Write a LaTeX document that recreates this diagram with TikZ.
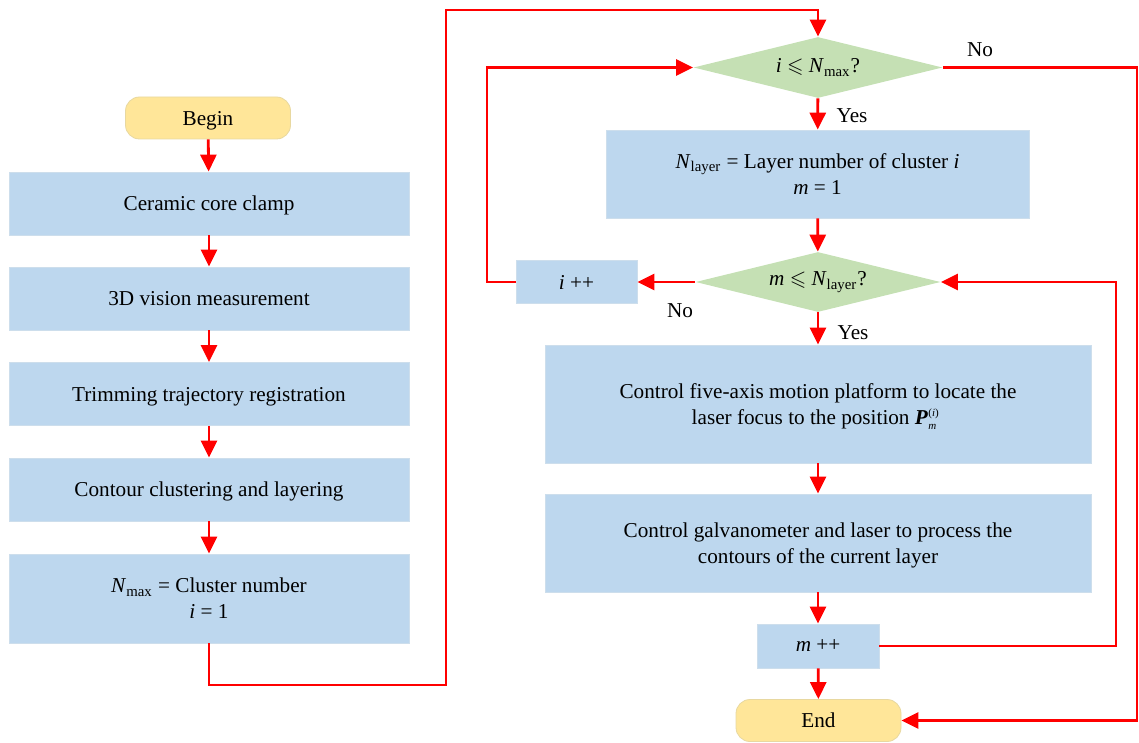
\documentclass[tikz,border=0pt]{standalone}
\usepackage{fontspec}
\usepackage{amssymb}
\setmainfont{Liberation Serif}
\usetikzlibrary{shapes.geometric,arrows.meta}

\definecolor{stepblue}{RGB}{189,215,238}
\definecolor{stepedge}{RGB}{205,222,236}
\definecolor{termyellow}{RGB}{255,230,153}
\definecolor{termedge}{RGB}{232,216,160}
\definecolor{testgreen}{RGB}{197,224,180}
\definecolor{flowred}{RGB}{255,0,0}

\newcommand{\Pmi}{\textbf{\textit{P}}\kern0.2pt\makebox[0pt][l]{\raisebox{0.85ex}{\fontsize{5.5}{5.5}\selectfont(\textit{i})}}\raisebox{-0.55ex}{\fontsize{5.5}{5.5}\selectfont\textit{m}}\kern4pt}

\begin{document}
\begin{tikzpicture}[x=0.5pt,y=-0.5pt,line cap=butt,line join=miter,
    font=\fontsize{10.6}{13}\selectfont,
    proc/.style={rectangle,fill=stepblue,draw=stepedge,line width=0.4pt,
        align=center,inner sep=0pt,text depth=-1.5pt},
    term/.style={rectangle,rounded corners=7pt,fill=termyellow,draw=termedge,
        line width=0.4pt,minimum width=82.5pt,minimum height=21pt,inner sep=0pt,
        text depth=0pt},
    test/.style={diamond,fill=testgreen,draw=none,inner sep=0pt},
    flow/.style={flowred,line width=1.4pt,-{Triangle[length=8.5pt,width=8pt]}}]
    \useasboundingbox (0,0) rectangle (1139,743);

    % Linke Spalte
    \node[term] (begin) at (208,118) {Begin};
    \node[proc,minimum width=200pt,minimum height=31.5pt] (clamp) at (209,203.5) {Ceramic core clamp};
    \node[proc,minimum width=200pt,minimum height=31.5pt] (vision) at (209,298.5) {3D vision measurement};
    \node[proc,minimum width=200pt,minimum height=31.5pt] (regist) at (209,394) {Trimming trajectory registration};
    \node[proc,minimum width=200pt,minimum height=31.5pt] (cluster) at (209,489.5) {Contour clustering and layering};
    \node[proc,minimum width=200pt,minimum height=44.5pt] (nmax) at (209,598.5)
        {\textit{N}\textsubscript{max} = Cluster number\\\textit{i} = 1};

    \draw[flow] (begin) -- (clamp);
    \draw[flow] (clamp) -- (vision);
    \draw[flow] (vision) -- (regist);
    \draw[flow] (regist) -- (cluster);
    \draw[flow] (cluster) -- (nmax);

    % Rechte Spalte
    \node[test,minimum width=124.5pt,minimum height=30.5pt,
        label=center:{\textit{i} $\leqslant$ \textit{N}\textsubscript{max}?}] (ctest) at (818,67.5) {};
    \node[proc,minimum width=211.5pt,minimum height=44pt,text depth=-2.5pt] (nlayer) at (817.5,174)
        {\textit{N}\textsubscript{layer} = Layer number of cluster \textit{i}\\\textit{m} = 1};
    \node[test,minimum width=122.5pt,minimum height=30pt,
        label=center:{\textit{m} $\leqslant$ \textit{N}\textsubscript{layer}?}] (ltest) at (818,282) {};
    \node[proc,minimum width=60.5pt,minimum height=21.5pt] (iinc) at (576.5,282) {\textit{i} ++};
    \node[proc,minimum width=273pt,minimum height=59pt,text depth=-4pt] (locate) at (818,404)
        {Control five-axis motion platform to locate the\\laser focus to the position \Pmi};
    \node[proc,minimum width=273pt,minimum height=49pt,text depth=-4pt] (galvo) at (818,543)
        {Control galvanometer and laser to process the\\contours of the current layer};
    \node[proc,minimum width=61pt,minimum height=22pt] (minc) at (818,646) {\textit{m} ++};
    \node[term] (end) at (818.5,720.5) {End};

    \node (yes1) at (852,116) {Yes};
    \node (no1) at (980,50) {No};
    \node (no2) at (680,311) {No};
    \node (yes2) at (853,333) {Yes};

    \coordinate (c1) at (446,685);
    \coordinate (c2) at (446,10);
    \coordinate (c3) at (487,67.5);
    \coordinate (c4) at (1137,67.5);
    \coordinate (c5) at (1116,282);

    \draw[flow] (nmax.south) |- (c1) -- (c2) -| (ctest.north);
    \draw[flow] (ctest) -- (nlayer);
    \draw[flow] (nlayer) -- (ltest);
    \draw[flow] (ltest) -- (iinc);
    \draw[flow] (iinc.west) -| (c3) -- (ctest.west);
    \draw[flow] (ltest) -- (locate);
    \draw[flow] (locate) -- (galvo);
    \draw[flow] (galvo) -- (minc);
    \draw[flow] (minc) -- (end);
    \draw[flow] (minc.east) -| (c5) -- (ltest.east);
    \draw[flow] (ctest.east) -- (c4) |- (end.east);
\end{tikzpicture}
\end{document}
